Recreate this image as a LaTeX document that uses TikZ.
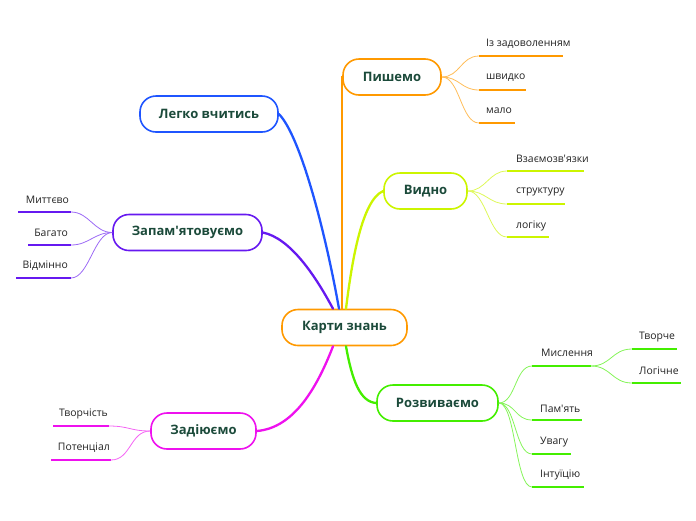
\documentclass[tikz,border=0pt]{standalone}
\usepackage{fontspec}
\setmainfont{Open Sans}
\definecolor{corange}{HTML}{FF9900}
\definecolor{cblue}{HTML}{1F55FF}
\definecolor{cyellow}{HTML}{CCF500}
\definecolor{cpurple}{HTML}{6619F0}
\definecolor{cmagenta}{HTML}{EE11EE}
\definecolor{cgreen}{HTML}{44EE00}
\definecolor{maintext}{HTML}{1B4A3A}
\definecolor{subtext}{HTML}{222222}
\tikzset{
  topic/.style={draw=#1, line width=1.6pt, rounded corners=16pt, fill=white,
    minimum height=36pt, inner sep=0pt, text=maintext,
    font=\fontsize{13}{15}\selectfont\bfseries},
  branch/.style={draw=#1, line width=2.3pt, line cap=round},
  twig/.style={draw=#1!65, line width=0.8pt},
  ul/.style={draw=#1, line width=2.6pt},
  subr/.style={anchor=west, inner sep=0pt, text=subtext, font=\fontsize{10.4}{12}\selectfont},
  subl/.style={anchor=east, inner sep=0pt, text=subtext, font=\fontsize{10.4}{12}\selectfont},
}
\begin{document}
\begin{tikzpicture}[x=1pt,y=-1pt]
\useasboundingbox (0,0) rectangle (696,520);

% main topic nodes
\node[topic=corange, minimum width=125] (c) at (344.5,327.5) {Карти знань};
\node[topic=corange, minimum width=98] (p) at (392,77) {Пишемо};
\node[topic=cblue, minimum width=138] (l) at (209,114) {Легко вчитись};
\node[topic=cyellow, minimum width=83] (v) at (425.5,191) {Видно};
\node[topic=cpurple, minimum width=149] (z) at (187.5,232.5) {Запам\textquotesingle ятовуємо};
\node[topic=cmagenta, minimum width=105] (d) at (203.5,431) {Задіюємо};
\node[topic=cgreen, minimum width=121] (r) at (437.5,403) {Розвиваємо};

% main branches
\draw[branch=corange] ([xshift=-2.5]c.north) |- (p.west);
\draw[branch=cblue] ([xshift=-5.5]c.north) .. controls (325,230) and (300,135) .. (l.east);
\draw[branch=cpurple] ([xshift=-11.5]c.north) .. controls (315,275) and (290,238) .. (z.east);
\draw[branch=cyellow] ([xshift=1.5]c.north) .. controls (352,260) and (362,200) .. (v.west);
\draw[branch=cmagenta] ([xshift=-11.5]c.south) .. controls (318,385) and (295,428) .. (d.east);
\draw[branch=cgreen] ([xshift=1.5]c.south) .. controls (352,380) and (360,402) .. (r.west);

% --- Пишемо
\coordinate (pa1) at (479,56);  \coordinate (pb1) at (563,56);
\coordinate (pa2) at (479,90);  \coordinate (pb2) at (526,90);
\coordinate (pa3) at (479,123); \coordinate (pb3) at (515,123);
\node[subr] (ps1) at (486,44) {Із задоволенням};
\node[subr] (ps2) at (486,78) {швидко};
\node[subr] (ps3) at (486,111) {мало};
\foreach \i in {1,2,3}{
  \draw[twig=corange] (p.east) .. controls +(18,0) and +(-18,0) .. (pa\i);
  \draw[ul=corange] (pa\i) -- (pb\i);
}

% --- Видно
\coordinate (va1) at (507,171); \coordinate (vb1) at (584,171);
\coordinate (va2) at (507,204); \coordinate (vb2) at (565,204);
\coordinate (va3) at (507,237); \coordinate (vb3) at (549,237);
\node[subr] (vs1) at (516,159) {Взаємозв\textquotesingle язки};
\node[subr] (vs2) at (516,192) {структуру};
\node[subr] (vs3) at (516,226) {логіку};
\foreach \i in {1,2,3}{
  \draw[twig=cyellow] (v.east) .. controls +(18,0) and +(-18,0) .. (va\i);
  \draw[ul=cyellow] (va\i) -- (vb\i);
}

% --- Розвиваємо
\coordinate (ra1) at (532,366); \coordinate (rb1) at (591,366);
\coordinate (ra2) at (532,420); \coordinate (rb2) at (582,420);
\coordinate (ra3) at (532,454); \coordinate (rb3) at (571,454);
\coordinate (ra4) at (532,487); \coordinate (rb4) at (584,487);
\node[subr] (rs1) at (541,353) {Мислення};
\node[subr] (rs2) at (540,409) {Пам\textquotesingle ять};
\node[subr] (rs3) at (540,442) {Увагу};
\node[subr] (rs4) at (540,475) {Інтуїцію};
\foreach \i in {1,2,3,4}{
  \draw[twig=cgreen] (r.east) .. controls +(17,0) and +(-17,0) .. (ra\i);
  \draw[ul=cgreen] (ra\i) -- (rb\i);
}
\coordinate (ma1) at (632,349); \coordinate (mb1) at (677,349);
\coordinate (ma2) at (632,383); \coordinate (mb2) at (681,383);
\node[subr] (ms1) at (639,337) {Творче};
\node[subr] (ms2) at (639,371) {Логічне};
\foreach \i in {1,2}{
  \draw[twig=cgreen] (rb1) .. controls +(20,0) and +(-20,0) .. (ma\i);
  \draw[ul=cgreen] (ma\i) -- (mb\i);
}

% --- Запам'ятовуємо
\coordinate (za1) at (71,212); \coordinate (zb1) at (18,212);
\coordinate (za2) at (71,245); \coordinate (zb2) at (28,245);
\coordinate (za3) at (71,278); \coordinate (zb3) at (16,278);
\node[subl] (zs1) at (69,200) {Миттєво};
\node[subl] (zs2) at (68,233) {Багато};
\node[subl] (zs3) at (68,266) {Відмінно};
\foreach \i in {1,2,3}{
  \draw[twig=cpurple] (z.west) .. controls +(-18,0) and +(18,0) .. (za\i);
  \draw[ul=cpurple] (za\i) -- (zb\i);
}

% --- Задіюємо
\coordinate (da1) at (109,426); \coordinate (db1) at (53,426);
\coordinate (da2) at (111,460); \coordinate (db2) at (51,460);
\node[subl] (ds1) at (108,414) {Творчість};
\node[subl] (ds2) at (110,448) {Потенціал};
\foreach \i in {1,2}{
  \draw[twig=cmagenta] (d.west) .. controls +(-20,0) and +(20,0) .. (da\i);
  \draw[ul=cmagenta] (da\i) -- (db\i);
}
\end{tikzpicture}
\end{document}
